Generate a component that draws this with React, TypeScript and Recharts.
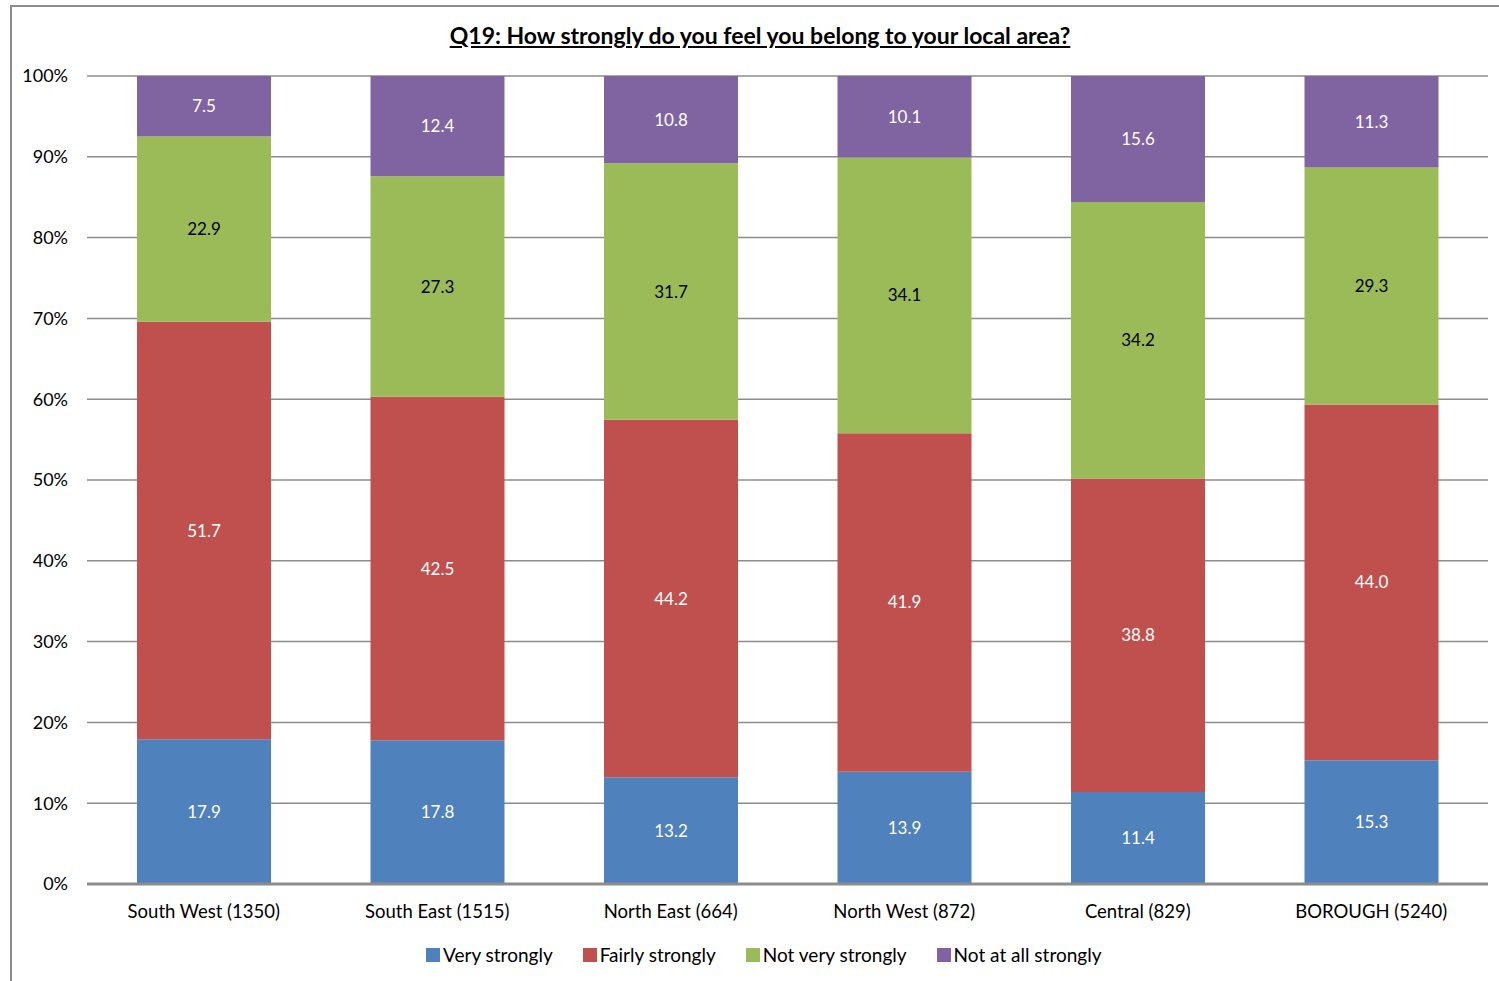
import React from "react";
import { BarChart, Bar, XAxis, YAxis, CartesianGrid, LabelList } from "recharts";

const categories = ["South West (1350)", "South East (1515)", "North East (664)", "North West (872)", "Central (829)", "BOROUGH (5240)"];
const veryStrongly = [17.9, 17.8, 13.2, 13.9, 11.4, 15.3];
const fairlyStrongly = [51.7, 42.5, 44.2, 41.9, 38.8, 44.0];
const notVeryStrongly = [22.9, 27.3, 31.7, 34.1, 34.2, 29.3];
const notAtAllStrongly = [7.5, 12.4, 10.8, 10.1, 15.6, 11.3];
const yTicks = [0, 0.1, 0.2, 0.3, 0.4, 0.5, 0.6, 0.7, 0.8, 0.9, 1];

const seriesList = [
  { key: "very", name: "Very strongly", color: "#4F81BD", label: "#FFFFFF" },
  { key: "fairly", name: "Fairly strongly", color: "#C0504D", label: "#FFFFFF" },
  { key: "notVery", name: "Not very strongly", color: "#9BBB59", label: "#000000" },
  { key: "notAtAll", name: "Not at all strongly", color: "#8064A2", label: "#FFFFFF" },
];

const data = categories.map((c, i) => ({
  name: c,
  very: veryStrongly[i],
  fairly: fairlyStrongly[i],
  notVery: notVeryStrongly[i],
  notAtAll: notAtAllStrongly[i],
}));

const FONT = "Lato, 'Open Sans', sans-serif";

export default function App() {
  return (
    <div style={{ position: "absolute", left: 0, top: 0, width: 1499, height: 981, background: "#fff", overflow: "hidden", fontFamily: FONT }}>
      <div style={{ position: "absolute", left: 10, top: 5, width: 1500, height: 1000, border: "2px solid #8c8c8c", boxSizing: "border-box" }} />
      <div style={{ position: "absolute", left: 0, top: 21, width: 1520, textAlign: "center", fontSize: 23, fontWeight: 700, textDecoration: "underline", color: "#000" }}>
        Q19: How strongly do you feel you belong to your local area?
      </div>
      <div style={{ position: "absolute", left: 0, top: 0 }}>
        <BarChart width={1499} height={981} data={data} stackOffset="expand" barSize={134} margin={{ top: 76, right: 11, bottom: 67, left: 27 }}>
          <CartesianGrid vertical={false} stroke="#8c8c8c" strokeWidth={1.5} />
          <XAxis dataKey="name" height={30} tickLine={false} axisLine={{ stroke: "#8c8c8c", strokeWidth: 3 }} tickSize={0} tickMargin={21} tick={{ fill: "#000", fontSize: 18.5, fontFamily: FONT }} interval={0} />
          <YAxis width={60} domain={[0, 1]} ticks={yTicks} tickFormatter={(v: number) => `${Math.round(v * 100)}%`} tickLine={false} axisLine={false} tickSize={0} tickMargin={19} tick={{ fill: "#000", fontSize: 18, fontFamily: FONT }} />
          {seriesList.map((s) => (
            <Bar key={s.key} dataKey={s.key} name={s.name} stackId="a" fill={s.color} isAnimationActive={false}>
              <LabelList dataKey={s.key} position="center" fill={s.label} fontSize={17} fontFamily={FONT} formatter={(v: any) => Number(v).toFixed(1)} />
            </Bar>
          ))}
        </BarChart>
      </div>
      <div style={{ position: "absolute", left: 426, top: 943, display: "flex", fontSize: 19, color: "#000", whiteSpace: "nowrap" }}>
        {seriesList.map((s, i) => (
          <div key={s.key} style={{ display: "flex", alignItems: "center", marginRight: i < 3 ? 30 : 0 }}>
            <div style={{ width: 14, height: 14, background: s.color, marginRight: 3 }} />
            <span>{s.name}</span>
          </div>
        ))}
      </div>
    </div>
  );
}
